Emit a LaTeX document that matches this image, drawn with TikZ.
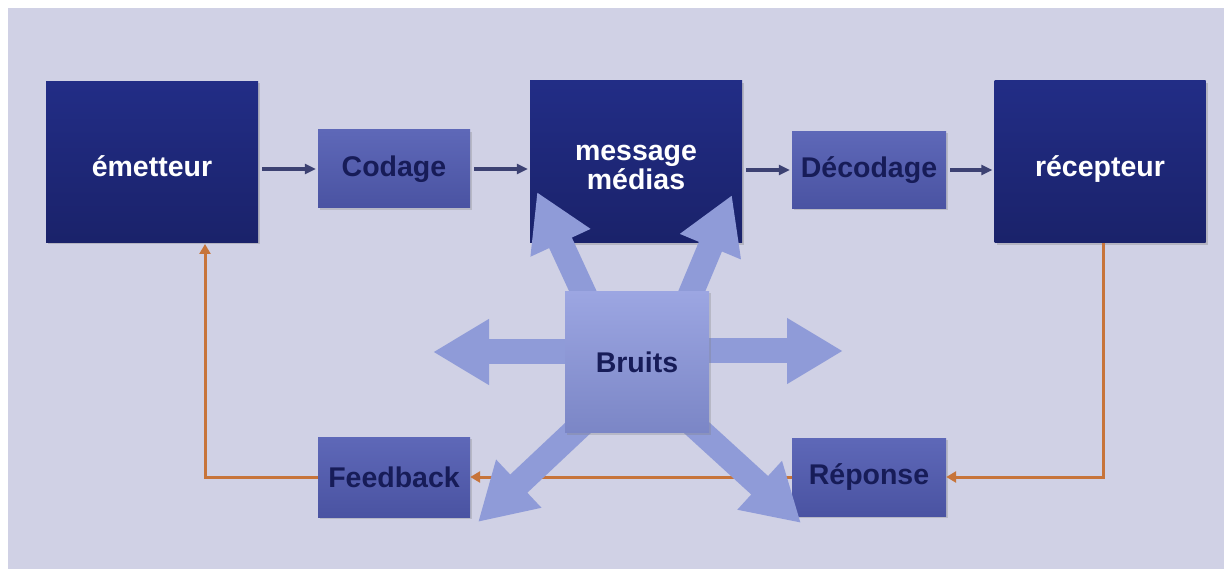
\documentclass[tikz,border=0pt]{standalone}
\usepackage{fontspec}
\setmainfont{Liberation Sans}
\usetikzlibrary{arrows.meta,calc,shadows}

\definecolor{canvas}{HTML}{D0D1E5}
\definecolor{navytop}{HTML}{222D86}
\definecolor{navybot}{HTML}{1A226A}
\definecolor{midtop}{HTML}{5E68B8}
\definecolor{midbot}{HTML}{4A53A2}
\definecolor{noisetop}{HTML}{9CA6E2}
\definecolor{noisebot}{HTML}{7B86C6}
\definecolor{inktext}{HTML}{171C58}
\definecolor{flowline}{HTML}{3C4172}
\definecolor{loopline}{HTML}{C7743A}
\definecolor{blockarrow}{HTML}{8F9BD8}

\pgfdeclarelayer{front}
\pgfsetlayers{main,front}

\tikzset{
  labelfont/.style={font=\fontsize{28.5}{29}\selectfont\bfseries},
  bigbox/.style={labelfont, text=white, align=center, inner sep=0pt,
    top color=navytop, bottom color=navybot,
    drop shadow={shadow xshift=2pt, shadow yshift=-2pt, opacity=0.35}},
  lowline/.style={text height=31pt, text depth=2pt},
  smallbox/.style={labelfont, text=inktext, inner sep=0pt,
    top color=midtop, bottom color=midbot,
    drop shadow={shadow xshift=2pt, shadow yshift=-2pt, opacity=0.3}},
  noisebox/.style={labelfont, text=inktext, inner sep=0pt,
    top color=noisetop, bottom color=noisebot,
    drop shadow={shadow xshift=2pt, shadow yshift=-2pt, opacity=0.3}},
  flow/.style={draw=flowline, line width=3.5pt,
    -{Triangle[length=11pt,width=10pt]}, shorten <=4pt, shorten >=2pt},
  loop/.style={draw=loopline, line width=3pt,
    -{Triangle[length=10pt,width=11pt]}},
  blockarr/.style={draw=blockarrow, line width=25pt,
    -{Triangle[length=56pt,width=62pt]}},
}

\begin{document}
\begin{tikzpicture}[x=1pt,y=-1pt]
\useasboundingbox (0,0) rectangle (1224,569);
\fill[canvas] (8,8) rectangle (1224,569);

% main chain
\node[bigbox, lowline, minimum width=212pt, minimum height=161pt] (emetteur) at (152,162) {émetteur};
\node[smallbox, minimum width=152pt, minimum height=78pt] (codage) at (394,169) {Codage};
\node[bigbox, minimum width=212pt, minimum height=162pt] (message) at (636,162) {\rule{0pt}{27pt}message\\médias};
\node[smallbox, minimum width=154pt, minimum height=77pt] (decodage) at (869,170) {Décodage};
\node[bigbox, lowline, minimum width=211pt, minimum height=162pt] (recepteur) at (1100,162) {récepteur};

% return path
\node[smallbox, minimum width=152pt, minimum height=80pt] (feedback) at (394,477) {Feedback};
\node[smallbox, minimum width=154pt, minimum height=78pt] (reponse) at (869,477) {Réponse};

% noise source, kept above its arrows
\begin{pgfonlayer}{front}
\node[noisebox, minimum width=144pt, minimum height=141pt] (bruits) at (637,362) {Bruits};
\end{pgfonlayer}

% forward flow
\draw[flow] (emetteur.east |- codage.west) -- (codage.west);
\draw[flow] (codage.east) -- (message.west |- codage.east);
\draw[flow] (message.east |- decodage.west) -- (decodage.west);
\draw[flow] (decodage.east) -- (recepteur.west |- decodage.east);

% feedback loop
\coordinate (fbcorner) at (205,477);
\coordinate (fbtop) at (205,244);
\draw[loop] ($(recepteur.south)+(3,0)$) |- (reponse.east);
\draw[loop] (reponse.west) -- (feedback.east);
\draw[loop] (feedback.west) -- (fbcorner) -- (fbtop);

% noise arrows
\coordinate (tipUL) at (537,192);
\coordinate (tipUR) at (732,195);
\coordinate (tipL) at (433,352);
\coordinate (tipR) at (843,351);
\coordinate (tipDL) at (478,522);
\coordinate (tipDR) at (801,523);
\draw[blockarr] ($(bruits.north west)+(32,30)$) -- (tipUL);
\draw[blockarr] ($(bruits.north east)+(-30,30)$) -- (tipUR);
\draw[blockarr] (bruits.center |- tipL) -- (tipL);
\draw[blockarr] (bruits.center |- tipR) -- (tipR);
\draw[blockarr] ($(bruits.south west)+(40,-30)$) -- (tipDL);
\draw[blockarr] ($(bruits.south east)+(-40,-30)$) -- (tipDR);
\end{tikzpicture}
\end{document}
